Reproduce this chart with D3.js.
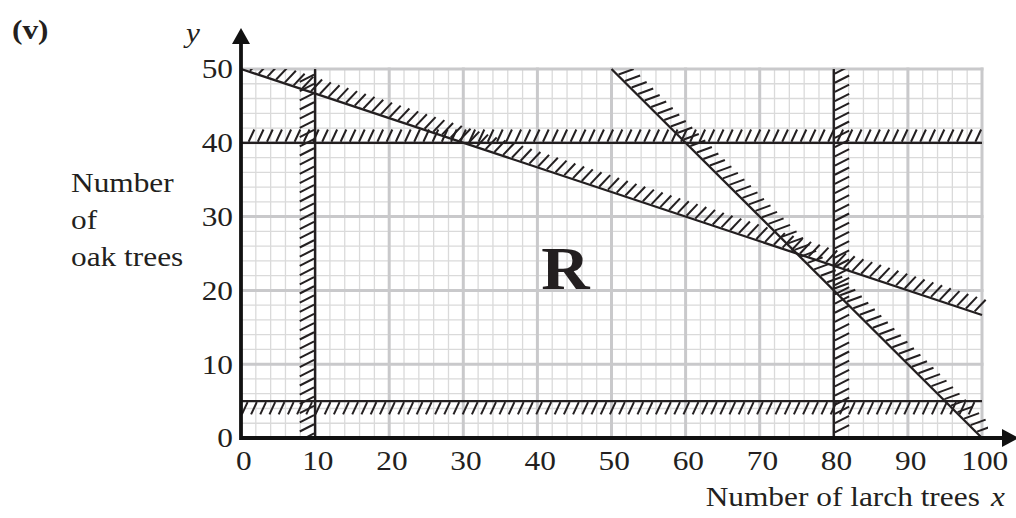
<!DOCTYPE html>
<html><head><meta charset="utf-8">
<script src="https://cdn.jsdelivr.net/npm/d3@7"></script>
<style>
body{margin:0;background:#fff;}
svg{display:block;}
text{font-family:"Liberation Serif","Times New Roman",serif;fill:#231f20;}
</style>
</head><body>
<svg id="chart" width="1016" height="518"></svg>
<script>
// ---------- data ----------
const xTicks = [0, 10, 20, 30, 40, 50, 60, 70, 80, 90, 100];
const yTicks = [0, 10, 20, 30, 40, 50];
const xDomain = [0, 100];
const yDomain = [0, 50];
const gridStep = 2;
// constraints written as a*x + b*y <= c (feasible side); the other side is hatched
const constraintNames = ["x >= 10", "x <= 80", "y <= 40", "y >= 5", "x + 3y <= 150", "x + y <= 100"];
const coefA = [-1, 1, 0, 0, 1, 1];
const coefB = [0, 0, 1, -1, 3, 1];
const coefC = [-10, 80, 40, -5, 150, 100];
const regionLabel = "R";
const panelLabel = "(v)";
const yAxisTitle = ["Number", "of", "oak trees"];
const xAxisTitle = "Number of larch trees";

// ---------- styles ----------
const hatchStyle = {
  "x >= 10": {tilt: 27, len: 16},
  "x <= 80": {tilt: 27, len: 16},
  "y <= 40": {tilt: -25, len: 13.5},
  "y >= 5": {tilt: -25, len: 13.5},
  "x + 3y <= 150": {tilt: -25, len: 16},
  "x + y <= 100": {tilt: -25, len: 16}
};
const ink = "#231f20";
const stretchX = 1.12;

// ---------- layout ----------
const W = 1016, H = 518;
const margin = {left: 241, top: 69, right: 34, bottom: 80};
const pw = W - margin.left - margin.right;
const ph = H - margin.top - margin.bottom;

const svg = d3.select("#chart");
const g = svg.append("g").attr("transform", `translate(${margin.left},${margin.top})`);

const x = d3.scaleLinear().domain(xDomain).range([0, pw]);
const y = d3.scaleLinear().domain(yDomain).range([ph, 0]);

function stretch(sel, ax) {
  sel.attr("transform", `translate(${ax},0) scale(${stretchX},1) translate(${-ax},0)`);
}

// grid
const xs = d3.range(xDomain[0], xDomain[1] + 0.001, gridStep);
const ys = d3.range(yDomain[0], yDomain[1] + 0.001, gridStep);
const grid = g.append("g");
grid.selectAll(".vminor").data(xs.filter(v => v % 10 !== 0)).join("line")
  .attr("x1", d => x(d)).attr("x2", d => x(d)).attr("y1", y(yDomain[0])).attr("y2", y(yDomain[1]))
  .attr("stroke", "#dadada").attr("stroke-width", 1.3);
grid.selectAll(".hminor").data(ys.filter(v => v % 10 !== 0)).join("line")
  .attr("y1", d => y(d)).attr("y2", d => y(d)).attr("x1", x(xDomain[0])).attr("x2", x(xDomain[1]))
  .attr("stroke", "#dadada").attr("stroke-width", 1.3);
grid.selectAll(".vmajor").data(xTicks.filter(v => v !== 0)).join("line")
  .attr("x1", d => x(d)).attr("x2", d => x(d)).attr("y1", y(yDomain[0])).attr("y2", y(yDomain[1]) - 1.5)
  .attr("stroke", "#c9c9cb").attr("stroke-width", 3);
grid.selectAll(".hmajor").data(yTicks.filter(v => v !== 0)).join("line")
  .attr("y1", d => y(d)).attr("y2", d => y(d)).attr("x1", x(xDomain[0])).attr("x2", x(xDomain[1]) + 1.5)
  .attr("stroke", "#c9c9cb").attr("stroke-width", 3);

// clip for hatching
svg.append("defs").append("clipPath").attr("id", "plotclip")
  .append("rect").attr("x", -6).attr("y", 0).attr("width", pw + 12).attr("height", ph - 2);

// constraint lines + hatches
function clipLine(a, b, c) {
  const pts = [];
  const [x0, x1] = xDomain, [y0, y1] = yDomain;
  if (b !== 0) {
    [x0, x1].forEach(xv => { const yv = (c - a * xv) / b; if (yv >= y0 - 1e-9 && yv <= y1 + 1e-9) pts.push([xv, yv]); });
  }
  if (a !== 0) {
    [y0, y1].forEach(yv => { const xv = (c - b * yv) / a; if (xv >= x0 - 1e-9 && xv <= x1 + 1e-9) pts.push([xv, yv]); });
  }
  const uniq = [];
  pts.forEach(p => { if (!uniq.some(q => Math.abs(q[0] - p[0]) < 1e-6 && Math.abs(q[1] - p[1]) < 1e-6)) uniq.push(p); });
  uniq.sort((p, q) => p[0] - q[0] || q[1] - p[1]);
  return [uniq[0], uniq[uniq.length - 1]];
}

const kx = x(1) - x(0), ky = y(0) - y(1);
const hatchLayer = g.append("g").attr("clip-path", "url(#plotclip)");
const lineLayer = g.append("g");
const spacing = 9.2, offset = 1.2;

constraintNames.forEach((name, i) => {
  const a = coefA[i], b = coefB[i], c = coefC[i];
  const seg = clipLine(a, b, c);
  const p1 = [x(seg[0][0]), y(seg[0][1])], p2 = [x(seg[1][0]), y(seg[1][1])];
  lineLayer.append("line")
    .attr("x1", p1[0]).attr("y1", p1[1]).attr("x2", p2[0]).attr("y2", p2[1])
    .attr("stroke", ink).attr("stroke-width", 2.3);
  const L = Math.hypot(p2[0] - p1[0], p2[1] - p1[1]);
  const u = [(p2[0] - p1[0]) / L, (p2[1] - p1[1]) / L];
  let n = [a / kx, -b / ky];
  const nl = Math.hypot(n[0], n[1]); n = [n[0] / nl, n[1] / nl];
  const st = hatchStyle[name];
  const th = st.tilt * Math.PI / 180;
  const d = [n[0] * Math.cos(th) + n[1] * Math.sin(th), -n[0] * Math.sin(th) + n[1] * Math.cos(th)];
  const count = Math.floor(L / spacing);
  const ticks = d3.range(count).map(k => (k + 0.5) * spacing + (L - count * spacing) / 2);
  hatchLayer.selectAll(null).data(ticks).join("line")
    .attr("x1", t => p1[0] + u[0] * t + d[0] * offset)
    .attr("y1", t => p1[1] + u[1] * t + d[1] * offset)
    .attr("x2", t => p1[0] + u[0] * t + d[0] * (offset + st.len))
    .attr("y2", t => p1[1] + u[1] * t + d[1] * (offset + st.len))
    .attr("stroke", ink).attr("stroke-width", 2);
});

// axes lines with arrows
const axes = g.append("g");
axes.append("line").attr("x1", x(0)).attr("x2", x(xDomain[1]) + 22).attr("y1", y(0)).attr("y2", y(0))
  .attr("stroke", "#111").attr("stroke-width", 3.8);
axes.append("line").attr("x1", x(0)).attr("x2", x(0)).attr("y1", y(0) + 1.9).attr("y2", y(yDomain[1]) - 26)
  .attr("stroke", "#111").attr("stroke-width", 3.8);
const xr = x(xDomain[1]);
axes.append("path").attr("d", `M${xr + 20},${y(0) - 9}L${xr + 37},${y(0)}L${xr + 20},${y(0) + 9}Z`).attr("fill", "#111");
const yt = y(yDomain[1]);
axes.append("path").attr("d", `M${x(0) - 9},${yt - 25}L${x(0)},${yt - 41}L${x(0) + 9},${yt - 25}Z`).attr("fill", "#111");

// tick labels via d3 axes
const xAxis = g.append("g").attr("transform", `translate(0,${ph})`)
  .call(d3.axisBottom(x).tickValues(xTicks).tickSize(0).tickPadding(12).tickFormat(d3.format("d")));
const yAxis = g.append("g")
  .call(d3.axisLeft(y).tickValues(yTicks).tickSize(0).tickPadding(8).tickFormat(d3.format("d")));
[xAxis, yAxis].forEach(ax => {
  ax.select(".domain").remove();
  ax.selectAll("text").attr("font-size", 28).attr("font-family", '"Liberation Serif",serif').attr("fill", ink);
});
xAxis.selectAll("text").attr("dx", 2).call(s => stretch(s, 0));
yAxis.selectAll("text").call(s => stretch(s, -8));

// region label
const rx = x(43.8);
g.append("text").attr("x", rx).attr("y", y(23) + 21)
  .attr("text-anchor", "middle").attr("font-size", 62).attr("font-weight", "bold").text(regionLabel)
  .call(s => s.attr("transform", `translate(${rx},0) scale(1.08,1) translate(${-rx},0)`));

// panel label
svg.append("text").attr("x", 12).attr("y", 39).attr("font-size", 28).attr("font-weight", "bold").text(panelLabel)
  .call(s => stretch(s, 12));

// y axis symbol
svg.append("text").attr("x", margin.left - 55).attr("y", 42).attr("font-size", 28).attr("font-style", "italic").text("y")
  .call(s => stretch(s, margin.left - 55));

// y axis title
const yt2 = svg.append("text").attr("font-size", 28).call(s => stretch(s, 71));
yAxisTitle.forEach((s, k) => {
  yt2.append("tspan").attr("x", 71).attr("y", 192 + k * 37).text(s);
});

// x axis title
const xt = svg.append("text").attr("x", 1005).attr("y", 506).attr("text-anchor", "end").attr("font-size", 28)
  .call(s => stretch(s, 1005));
xt.append("tspan").text(xAxisTitle);
xt.append("tspan").attr("dx", 10).attr("font-style", "italic").text("x");
</script>
</body></html>
